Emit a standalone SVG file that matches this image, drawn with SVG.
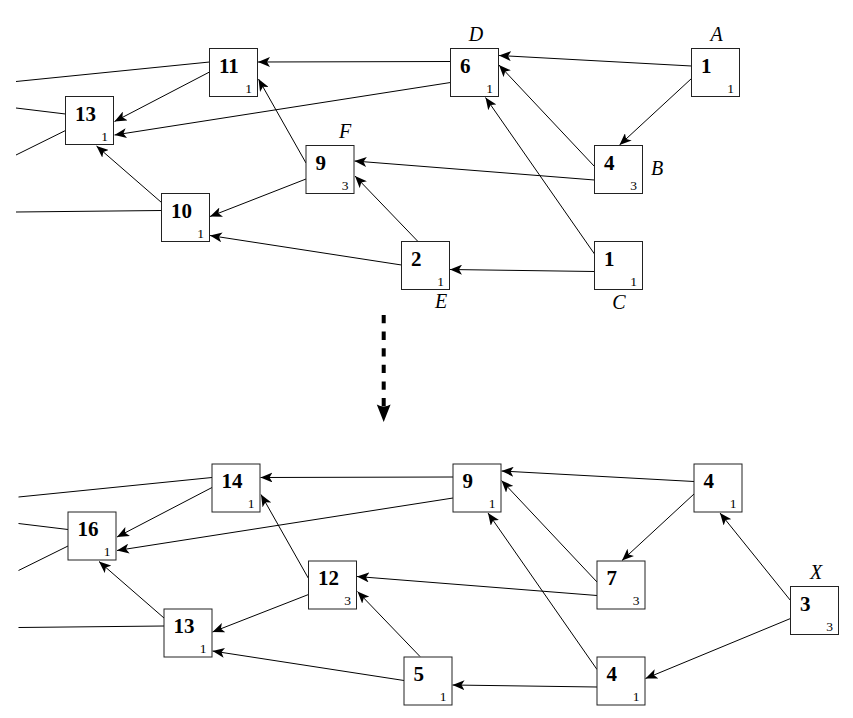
<svg xmlns="http://www.w3.org/2000/svg" width="853" height="718" viewBox="0 0 853 718">
<style>
rect.box{fill:#fff;stroke:#222;stroke-width:1}
.lb{font-family:"Liberation Serif","DejaVu Serif",serif;font-weight:bold;font-size:21px;fill:#000}
.sb{font-family:"Liberation Serif","DejaVu Serif",serif;font-size:13.5px;fill:#000;text-anchor:end}
.nm{font-family:"Liberation Serif","DejaVu Serif",serif;font-style:italic;font-size:20px;fill:#000;text-anchor:middle}
.e{stroke:#000;stroke-width:1;fill:none;marker-end:url(#ah)}
.f{stroke:#000;stroke-width:1;fill:none}
</style>
<defs>
<marker id="ah" viewBox="0 0 12 10" refX="12" refY="5" markerWidth="12" markerHeight="10" markerUnits="userSpaceOnUse" orient="auto">
<path d="M0,0 L12,5 L0,10 L3,5 Z" fill="#000"/>
</marker>
</defs>

<g id="connectors-top">
<line class="e" x1="450.5" y1="61.5" x2="258" y2="62"/>
<line class="e" x1="691.5" y1="66" x2="499" y2="55.5"/>
<line class="e" x1="691.5" y1="78.5" x2="619.5" y2="145"/>
<line class="e" x1="594.5" y1="166.5" x2="499" y2="65"/>
<line class="e" x1="594.5" y1="254" x2="485.5" y2="97.5"/>
<line class="e" x1="594.5" y1="180" x2="354.5" y2="161"/>
<line class="e" x1="594.5" y1="271.5" x2="450" y2="269.5"/>
<line class="e" x1="417.5" y1="241" x2="355" y2="176"/>
<line class="e" x1="306" y1="163" x2="258.5" y2="79"/>
<line class="e" x1="306" y1="179" x2="210" y2="216.5"/>
<line class="e" x1="401.5" y1="265" x2="210" y2="235.5"/>
<line class="e" x1="161.5" y1="202.5" x2="96.5" y2="146"/>
<line class="e" x1="209.5" y1="72" x2="114.5" y2="121.5"/>
<line class="e" x1="450.5" y1="82.5" x2="114.5" y2="135"/>
<line class="f" x1="209.5" y1="62" x2="16" y2="81.5"/>
<line class="f" x1="65.5" y1="114" x2="16" y2="108"/>
<line class="f" x1="65.5" y1="130.5" x2="16" y2="155"/>
<line class="f" x1="161.5" y1="210.5" x2="16" y2="212"/>
</g>

<g id="n11" transform="translate(209.5,48.5)"><rect class="box" width="48" height="48"/><text class="lb" x="9.5" y="24">11</text><text class="sb" x="42.5" y="44">1</text></g>
<g id="n13" transform="translate(65.5,96.5)"><rect class="box" width="48" height="48"/><text class="lb" x="9.5" y="24">13</text><text class="sb" x="42.5" y="44">1</text></g>
<g id="n10" transform="translate(161.5,193.5)"><rect class="box" width="48" height="48"/><text class="lb" x="9.5" y="24">10</text><text class="sb" x="42.5" y="44">1</text></g>
<g id="nF" transform="translate(306,145.5)"><rect class="box" width="48" height="48"/><text class="lb" x="9.5" y="24">9</text><text class="sb" x="42.5" y="44">3</text></g>
<g id="nD" transform="translate(450.5,48.5)"><rect class="box" width="48" height="48"/><text class="lb" x="9.5" y="24">6</text><text class="sb" x="42.5" y="44">1</text></g>
<g id="nA" transform="translate(691.5,48.5)"><rect class="box" width="48" height="48"/><text class="lb" x="9.5" y="24">1</text><text class="sb" x="42.5" y="44">1</text></g>
<g id="nB" transform="translate(594.5,145.5)"><rect class="box" width="48" height="48"/><text class="lb" x="9.5" y="24">4</text><text class="sb" x="42.5" y="44">3</text></g>
<g id="nE" transform="translate(401.5,241.5)"><rect class="box" width="48" height="48"/><text class="lb" x="9.5" y="24">2</text><text class="sb" x="42.5" y="44">1</text></g>
<g id="nC" transform="translate(594.5,241.5)"><rect class="box" width="48" height="48"/><text class="lb" x="9.5" y="24">1</text><text class="sb" x="42.5" y="44">1</text></g>

<g id="names-top">
<text class="nm" x="476" y="40.5">D</text>
<text class="nm" x="716.5" y="40.5">A</text>
<text class="nm" x="345" y="138">F</text>
<text class="nm" x="657" y="175">B</text>
<text class="nm" x="441" y="308">E</text>
<text class="nm" x="619" y="309">C</text>
</g>

<g id="transition">
<line x1="383.7" y1="315" x2="383.7" y2="406" stroke="#000" stroke-width="4" stroke-dasharray="8.3 8.3"/>
<path d="M383.7,422 L376.8,404.5 Q383.7,408.5 390.6,404.5 Z" fill="#000"/>
</g>

<g id="connectors-bottom" transform="translate(2.5,415.5)">
<line class="e" x1="450.5" y1="61.5" x2="258" y2="62"/>
<line class="e" x1="691.5" y1="66" x2="499" y2="55.5"/>
<line class="e" x1="691.5" y1="78.5" x2="619.5" y2="145"/>
<line class="e" x1="594.5" y1="166.5" x2="499" y2="65"/>
<line class="e" x1="594.5" y1="254" x2="485.5" y2="97.5"/>
<line class="e" x1="594.5" y1="180" x2="354.5" y2="161"/>
<line class="e" x1="594.5" y1="271.5" x2="450" y2="269.5"/>
<line class="e" x1="417.5" y1="241" x2="355" y2="176"/>
<line class="e" x1="306" y1="163" x2="258.5" y2="79"/>
<line class="e" x1="306" y1="179" x2="210" y2="216.5"/>
<line class="e" x1="401.5" y1="265" x2="210" y2="235.5"/>
<line class="e" x1="161.5" y1="202.5" x2="96.5" y2="146"/>
<line class="e" x1="209.5" y1="72" x2="114.5" y2="121.5"/>
<line class="e" x1="450.5" y1="82.5" x2="114.5" y2="135"/>
<line class="e" x1="788" y1="185" x2="717.5" y2="97.5"/>
<line class="e" x1="788" y1="203" x2="643" y2="263"/>
<line class="f" x1="209.5" y1="62" x2="16" y2="81.5"/>
<line class="f" x1="65.5" y1="114" x2="16" y2="108"/>
<line class="f" x1="65.5" y1="130.5" x2="16" y2="155"/>
<line class="f" x1="161.5" y1="210.5" x2="16" y2="212"/>
</g>

<g id="b14" transform="translate(212,464)"><rect class="box" width="48" height="48"/><text class="lb" x="9.5" y="24">14</text><text class="sb" x="42.5" y="44">1</text></g>
<g id="b16" transform="translate(68,512)"><rect class="box" width="48" height="48"/><text class="lb" x="9.5" y="24">16</text><text class="sb" x="42.5" y="44">1</text></g>
<g id="b13" transform="translate(164,609)"><rect class="box" width="48" height="48"/><text class="lb" x="9.5" y="24">13</text><text class="sb" x="42.5" y="44">1</text></g>
<g id="b12" transform="translate(308.5,561)"><rect class="box" width="48" height="48"/><text class="lb" x="9.5" y="24">12</text><text class="sb" x="42.5" y="44">3</text></g>
<g id="b9" transform="translate(453,464)"><rect class="box" width="48" height="48"/><text class="lb" x="9.5" y="24">9</text><text class="sb" x="42.5" y="44">1</text></g>
<g id="b4a" transform="translate(694,464)"><rect class="box" width="48" height="48"/><text class="lb" x="9.5" y="24">4</text><text class="sb" x="42.5" y="44">1</text></g>
<g id="b7" transform="translate(597,561)"><rect class="box" width="48" height="48"/><text class="lb" x="9.5" y="24">7</text><text class="sb" x="42.5" y="44">3</text></g>
<g id="b5" transform="translate(404,657)"><rect class="box" width="48" height="48"/><text class="lb" x="9.5" y="24">5</text><text class="sb" x="42.5" y="44">1</text></g>
<g id="b4c" transform="translate(597,657)"><rect class="box" width="48" height="48"/><text class="lb" x="9.5" y="24">4</text><text class="sb" x="42.5" y="44">1</text></g>
<g id="bX" transform="translate(790.5,586.5)"><rect class="box" width="48" height="48"/><text class="lb" x="9.5" y="24">3</text><text class="sb" x="42.5" y="44">3</text></g>

<g id="names-bottom">
<text class="nm" x="816" y="579">X</text>
</g>
</svg>
